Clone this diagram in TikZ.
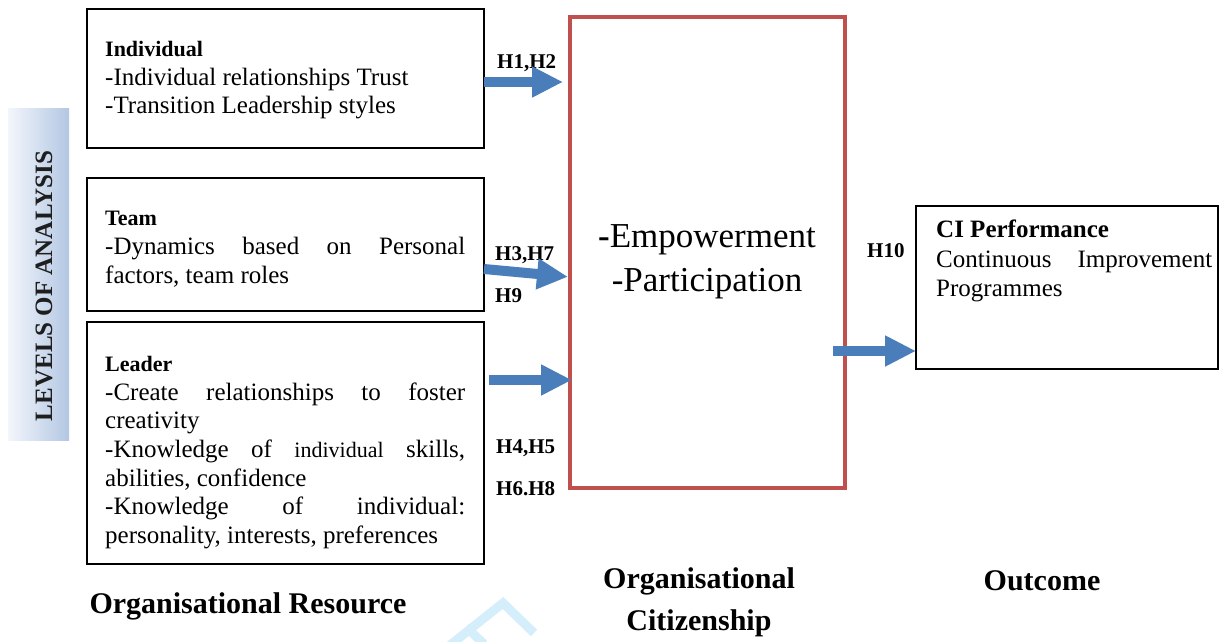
\documentclass[tikz,border=0pt]{standalone}
\usepackage{fontspec}
\setmainfont{Liberation Serif}
\usetikzlibrary{arrows.meta,calc}
\definecolor{redbox}{HTML}{C0504D}
\definecolor{arrowblue}{HTML}{4A7EBB}
\definecolor{barleft}{HTML}{F3F6FB}
\definecolor{barright}{HTML}{B3C7E3}
\definecolor{wmark}{HTML}{D5EEFB}
\definecolor{lvltext}{HTML}{1E1E1E}
\begin{document}
\begin{tikzpicture}[x=1pt,y=-1pt,
  box/.style={draw=black,line width=1.2pt,inner sep=0,outer sep=0,anchor=north west},
  body/.style={anchor=north west,inner sep=0,text width=#1,align=justify,
    font=\fontsize{25}{28.7}\selectfont},
  hlabel/.style={anchor=base west,inner sep=0,font=\fontsize{21}{24}\selectfont\bfseries},
  title/.style={anchor=base,inner sep=0,font=\fontsize{30}{34}\selectfont\bfseries},
  big/.style={anchor=base,inner sep=0,font=\fontsize{35}{40}\selectfont},
  arr/.style={draw=arrowblue,line width=10pt,-{Triangle[length=31pt,width=29pt]}}]
\useasboundingbox (0,0) rectangle (1220,642);
\fill[white] (0,0) rectangle (1220,642);

% watermark
\draw[wmark,line width=9pt,line join=miter] (449,646) -- (503,603) -- (534,633);
\draw[wmark,line width=9pt] (466,627) -- (484,644);

% levels of analysis bar
\shade[left color=barleft,right color=barright] (8,108) rectangle (69,440);
\node[rotate=90,inner sep=0,text=lvltext,font=\fontsize{25}{28}\selectfont\bfseries] (lvl) at (44,286) {LEVELS OF ANALYSIS};

% boxes
\node[box,minimum width=397pt,minimum height=139pt] (indiv) at (87,9) {};
\node[box,minimum width=397pt,minimum height=133pt] (team) at (87,178) {};
\node[box,minimum width=397pt,minimum height=242pt] (leader) at (87,322) {};
\node[box,minimum width=302pt,minimum height=163pt] (ci) at (916,206) {};
\node[draw=redbox,line width=4pt,inner sep=0,outer sep=0,anchor=north west,minimum width=275pt,minimum height=471pt] (ocb) at (570,17) {};

% box texts
\node[body=360pt] (indivtxt) at (105,41) {{\fontsize{22}{28}\selectfont\bfseries Individual}\\
-Individual relationships Trust\\
-Transition Leadership styles};
\node[body=360pt] (teamtxt) at (105,211) {{\fontsize{22}{28}\selectfont\bfseries Team}\\
-Dynamics based on Personal\linebreak factors, team roles};
\node[body=360pt] (leadertxt) at (105,356) {{\fontsize{22}{28}\selectfont\bfseries Leader}\\
-Create relationships to foster\linebreak creativity\\
-Knowledge of {\fontsize{22}{28}\selectfont individual} skills,\linebreak abilities, confidence\\
-Knowledge of individual:\linebreak personality, interests, preferences};
\node[body=276pt,font=\fontsize{25}{29.5}\selectfont] (citxt) at (936,220) {{\bfseries CI Performance}\\
Continuous Improvement\linebreak Programmes};

% centre texts
\node[big] (emp) at (707,247) {\textbf{-}Empowerment};
\node[big] (part) at (707,291) {-Participation};

% hypothesis labels
\node[hlabel] (h12) at (497,68) {H1,H2};
\node[hlabel] (h37) at (495,260) {H3,H7};
\node[hlabel] (h9) at (495,302) {H9};
\node[hlabel] (h45) at (496,453) {H4,H5};
\node[hlabel] (h68) at (496,495) {H6.H8};
\node[hlabel] (h10) at (867,257) {H10};

% titles
\node[title] (orgres) at (248,613) {Organisational Resource};
\node[title] (orgcit1) at (699,588) {Organisational};
\node[title] (orgcit2) at (699,630) {Citizenship};
\node[title] (outcome) at (1042,590) {Outcome};

% connectors
\draw[arr,shorten >=7pt] (indiv.east |- 0,82) -- (ocb.west |- 0,82);
\coordinate (t1) at (team.east |- 0,269);
\coordinate (t2) at (ocb.west |- 0,277);
\draw[arr,shorten >=2pt] (t1) -- (t2);
\draw[arr,shorten <=5pt,shorten >=-2pt] (leader.east |- 0,380) -- (ocb.west |- 0,380);
\coordinate (o1) at ($(ocb.east |- 0,351)+(-12,0)$);
\draw[arr] (o1) -- (ci.west |- 0,351);
\end{tikzpicture}
\end{document}
